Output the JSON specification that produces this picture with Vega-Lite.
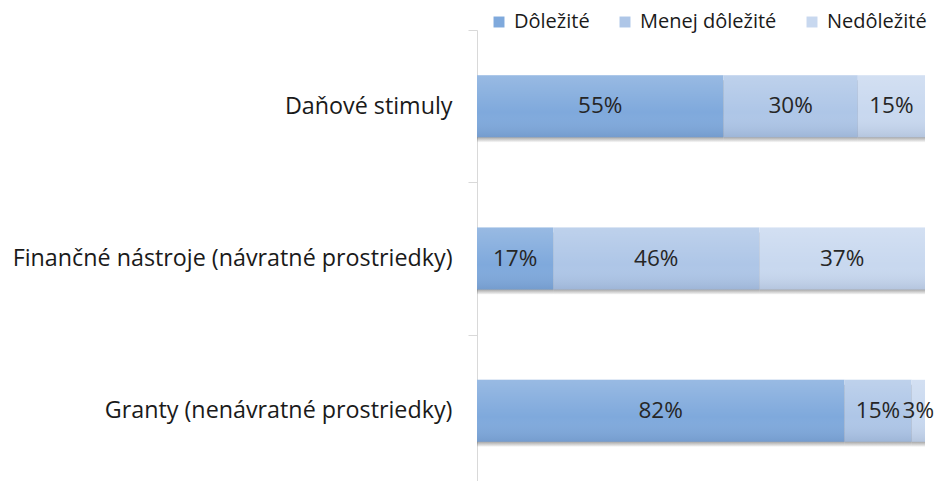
{
  "$schema": "https://vega.github.io/schema/vega-lite/v6.json",
  "autosize": "none",
  "width": 448,
  "height": 457,
  "padding": {"left": 477, "top": 30, "right": 24, "bottom": 0},
  "background": "white",
  "config": {"view": {"stroke": null}, "font": "Open Sans"},
  "data": {"values": [
    {"cat": "Daňové stimuly", "typ": "Dôležité", "o": 1, "v": 0.55},
    {"cat": "Daňové stimuly", "typ": "Menej dôležité", "o": 2, "v": 0.30},
    {"cat": "Daňové stimuly", "typ": "Nedôležité", "o": 3, "v": 0.15},
    {"cat": "Finančné nástroje (návratné prostriedky)", "typ": "Dôležité", "o": 1, "v": 0.17},
    {"cat": "Finančné nástroje (návratné prostriedky)", "typ": "Menej dôležité", "o": 2, "v": 0.46},
    {"cat": "Finančné nástroje (návratné prostriedky)", "typ": "Nedôležité", "o": 3, "v": 0.37},
    {"cat": "Granty (nenávratné prostriedky)", "typ": "Dôležité", "o": 1, "v": 0.82},
    {"cat": "Granty (nenávratné prostriedky)", "typ": "Menej dôležité", "o": 2, "v": 0.15},
    {"cat": "Granty (nenávratné prostriedky)", "typ": "Nedôležité", "o": 3, "v": 0.03}
  ]},
  "encoding": {
    "y": {"field": "cat", "type": "nominal", "sort": null,
      "scale": {"paddingInner": 0, "paddingOuter": 0},
      "axis": {"title": null, "tickBand": "extent", "tickSize": 9, "tickColor": "#d9d9d9", "domainColor": "#d9d9d9",
        "labelFontSize": 23.3, "labelColor": "#1a1a1a", "labelPadding": 16, "labelLimit": 500}},
    "x": {"field": "v", "type": "quantitative", "stack": "zero", "scale": {"domain": [0, 1]}, "axis": null},
    "order": {"field": "o", "type": "quantitative"}
  },
  "layer": [
    {"mark": {"type": "bar", "size": 62, "yOffset": 5, "x2Offset": 2, "color": {"gradient": "linear", "x1": 0, "y1": 0, "x2": 0, "y2": 1,
      "stops": [{"offset": 0, "color": "rgba(60,60,60,0.6)"}, {"offset": 0.9, "color": "rgba(60,60,60,0.55)"}, {"offset": 1, "color": "rgba(60,60,60,0.03)"}]}}},
    {"mark": {"type": "bar", "size": 62},
      "encoding": {"color": {"field": "typ", "type": "nominal",
        "scale": {"domain": ["Dôležité", "Menej dôležité", "Nedôležité"], "range": ["#7fa9dc", "#aec6e7", "#c8d8ef"]},
        "legend": {"title": null, "orient": "none", "legendX": 12, "legendY": -18, "direction": "horizontal",
          "symbolType": "square", "symbolSize": 120, "symbolStrokeWidth": 0, "labelFontSize": 20, "labelColor": "#1a1a1a",
          "columnPadding": 25, "labelOffset": 5}}}},
    {"mark": {"type": "bar", "size": 62, "color": {"gradient": "linear", "x1": 0, "y1": 0, "x2": 0, "y2": 1,
      "stops": [{"offset": 0, "color": "rgba(255,255,255,0.2)"}, {"offset": 0.6, "color": "rgba(255,255,255,0)"}, {"offset": 1, "color": "rgba(40,60,100,0.12)"}]}}},
    {"mark": {"type": "text", "fontSize": 22.5, "color": "#262626"},
      "encoding": {"x": {"field": "v", "type": "quantitative", "stack": "zero", "bandPosition": 0.5},
        "text": {"field": "v", "type": "quantitative", "format": ".0%"}}}
  ]
}
